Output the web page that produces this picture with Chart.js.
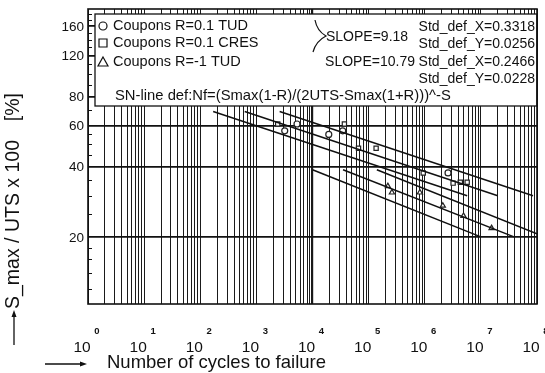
<!DOCTYPE html>
<html>
<head>
<meta charset="utf-8">
<script src="https://cdn.jsdelivr.net/npm/chart.js@4.4.0/dist/chart.umd.min.js"></script>
<style>
  html, body { margin: 0; padding: 0; background: #fff; }
  #snChart { display: block; }
</style>
</head>
<body>
<canvas id="snChart" width="545" height="373"></canvas>
<script>
// coupons R=0.1 TUD (circles)
var tudN = [3.2e3, 5.3e3, 1.95e4, 3.45e4, 2.6e6];
var tudS = [57, 61, 55, 57, 37.6];
// coupons R=0.1 CRES (squares)
var cresN = [2.4e3, 3.7e4, 6.6e4, 1.36e5, 9.4e5, 3.2e6, 4.3e6, 5.7e6];
var cresS = [61, 61, 48, 48, 37.6, 34, 34.3, 34.3];
// coupons R=-1 TUD (triangles)
var revN = [2.2e5, 2.6e5, 8.2e5, 2.1e6, 4.9e6, 1.55e7];
var revS = [33, 31, 31, 27.2, 24.6, 21.8];

// SN lines (start, end)
var lineR01N = [[1.7e2, 5.7e6], [6.2e2, 2.0e7], [2.6e3, 8.5e7]];
var lineR01S = [[69, 30], [69, 30], [69, 30]];
var lineRm1N = [[1.0e4, 1.0e7], [3.5e4, 3.9e7], [1.4e5, 1.0e8]];
var lineRm1S = [[38.8, 20], [38.8, 20], [38.8, 20.6]];

var yTicks = [20, 40, 60, 80, 120, 160];
var yMinorTicks = [12, 14, 16, 18, 25, 30, 35, 45, 50, 55, 70, 90, 100, 110, 130, 140, 150, 170, 180];
var xDecades = [0, 1, 2, 3, 4, 5, 6, 7, 8];
var legendLabels = ['Coupons R=0.1 TUD', 'Coupons R=0.1 CRES', 'Coupons R=-1 TUD'];
var slopeText = ['SLOPE=9.18', 'SLOPE=10.79'];
var stdText = ['Std_def_X=0.3318', 'Std_def_Y=0.0256', 'Std_def_X=0.2466', 'Std_def_Y=0.0228'];
var defText = 'SN-line def:Nf=(Smax(1-R)/(2UTS-Smax(1+R)))^-S';

var FONT = '"Liberation Sans", Arial, sans-serif';

function pts(xs, ys) {
  var out = [];
  for (var i = 0; i < xs.length; i++) out.push({ x: xs[i], y: ys[i] });
  return out;
}

var datasets = [];
for (var i = 0; i < 3; i++) {
  datasets.push({ data: pts(lineR01N[i], lineR01S[i]), showLine: true, borderColor: '#111', borderWidth: 1.5, pointRadius: 0 });
  datasets.push({ data: pts(lineRm1N[i], lineRm1S[i]), showLine: true, borderColor: '#111', borderWidth: 1.5, pointRadius: 0 });
}
datasets.push({ data: pts(tudN, tudS), pointStyle: 'circle', pointRadius: 3, borderColor: '#222', backgroundColor: '#fff', borderWidth: 1.2 });
datasets.push({ data: pts(cresN, cresS), pointStyle: 'rect', pointRadius: 3, borderColor: '#222', backgroundColor: '#fff', borderWidth: 1.2 });
datasets.push({ data: pts(revN, revS), pointStyle: 'triangle', pointRadius: 3, borderColor: '#222', backgroundColor: '#fff', borderWidth: 1.2 });

function drawMarker(ctx, style, x, y) {
  ctx.beginPath();
  if (style == 'circle') ctx.arc(x, y, 4, 0, Math.PI * 2);
  else if (style == 'rect') ctx.rect(x - 4, y - 4, 8, 8);
  else { ctx.moveTo(x, y - 5); ctx.lineTo(x + 5, y + 4); ctx.lineTo(x - 5, y + 4); ctx.closePath(); }
  ctx.stroke();
}

var decorPlugin = {
  id: 'decor',
  afterDraw: function (chart) {
    var ctx = chart.ctx, a = chart.chartArea;
    var xs = chart.scales.x, ys = chart.scales.y;
    ctx.save();
    ctx.strokeStyle = '#111';
    ctx.fillStyle = '#111';

    // minor ticks on left border
    ctx.lineWidth = 1;
    ctx.beginPath();
    yMinorTicks.forEach(function (v) {
      var py = Math.round(ys.getPixelForValue(v)) + 0.5;
      ctx.moveTo(a.left, py); ctx.lineTo(a.left + 4, py);
    });
    ctx.stroke();

    // legend box
    var bx = a.left + 7, by = 14, bw = a.right - bx, bh = 92;
    ctx.fillStyle = '#fff';
    ctx.fillRect(bx, by, bw, bh);
    ctx.lineWidth = 1.3;
    ctx.strokeRect(bx, by, bw, bh);
    ctx.fillStyle = '#111';
    ctx.font = '14.5px ' + FONT;
    ctx.textBaseline = 'middle';
    var rows = [26, 43, 62];
    var styles = ['circle', 'rect', 'triangle'];
    for (var i = 0; i < 3; i++) {
      ctx.lineWidth = 1.2;
      drawMarker(ctx, styles[i], bx + 8, rows[i]);
      ctx.textAlign = 'left';
      ctx.fillText(legendLabels[i], bx + 18, rows[i]);
    }
    ctx.font = '14.8px ' + FONT;
    ctx.fillText(defText, bx + 20, 96);
    ctx.font = '14px ' + FONT;
    ctx.fillText(slopeText[0], 326, 37);
    ctx.textAlign = 'right';
    ctx.fillText(slopeText[1], 415, 62);
    var sy = [27, 44, 62, 79];
    for (var j = 0; j < 4; j++) ctx.fillText(stdText[j], a.right - 2, sy[j]);
    // brace
    ctx.lineWidth = 1.2;
    ctx.beginPath();
    ctx.moveTo(315, 20);
    ctx.quadraticCurveTo(317, 31, 326, 36);
    ctx.quadraticCurveTo(316, 41, 313, 52);
    ctx.stroke();

    // frame
    ctx.lineWidth = 1.6;
    ctx.strokeRect(a.left, a.top, a.right - a.left, a.bottom - a.top);

    // y tick labels
    ctx.font = '13.5px ' + FONT;
    ctx.textAlign = 'right';
    yTicks.forEach(function (v) {
      ctx.fillText(String(v), a.left - 4, ys.getPixelForValue(v) + 1);
    });

    // x tick labels: 10 with exponent
    xDecades.forEach(function (d) {
      var px = xs.getPixelForValue(Math.pow(10, d));
      ctx.font = '15.5px ' + FONT;
      ctx.textAlign = 'center';
      ctx.fillText('10', px - 6, 348);
      ctx.font = 'bold 9.5px ' + FONT;
      ctx.fillText(String(d), px + 9, 331);
    });

    // axis titles
    ctx.font = '18.5px ' + FONT;
    ctx.textAlign = 'left';
    ctx.fillText('Number of cycles to failure', 107, 363);
    ctx.save();
    ctx.translate(14, 309);
    ctx.rotate(-Math.PI / 2);
    ctx.font = '19.5px ' + FONT;
    ctx.fillText('S_max / UTS x 100', 0, 0);
    ctx.textAlign = 'right';
    ctx.fillText('[%]', 216, 0);
    ctx.restore();

    // arrows
    ctx.lineWidth = 1.3;
    ctx.beginPath();
    ctx.moveTo(45, 364); ctx.lineTo(84, 364);
    ctx.moveTo(14, 345); ctx.lineTo(14, 313);
    ctx.stroke();
    ctx.beginPath();
    ctx.moveTo(87, 364); ctx.lineTo(80, 361.5); ctx.lineTo(80, 366.5); ctx.closePath();
    ctx.moveTo(14, 310); ctx.lineTo(11.5, 317); ctx.lineTo(16.5, 317); ctx.closePath();
    ctx.fill();
    ctx.restore();
  }
};

var ctx = document.getElementById('snChart');
var snChart = new Chart(ctx, {
  type: 'scatter',
  data: { datasets: datasets },
  options: {
    responsive: false,
    animation: false,
    layout: { padding: { left: 88, right: 8, top: 9, bottom: 69 } },
    plugins: { legend: { display: false }, tooltip: { enabled: false } },
    scales: {
      x: {
        type: 'logarithmic',
        min: 1,
        max: 1e8,
        afterBuildTicks: function (scale) {
          var t = [];
          for (var k = 0; k < 8; k++) {
            for (var m = 1; m < 10; m++) t.push({ value: m * Math.pow(10, k) });
          }
          t.push({ value: 1e8 });
          scale.ticks = t;
        },
        ticks: { display: false },
        border: { display: false },
        grid: {
          drawTicks: false,
          color: '#1a1a1a',
          lineWidth: function (c) { return c.tick && c.tick.value === 1e4 ? 2.2 : 1; }
        }
      },
      y: {
        type: 'logarithmic',
        min: 10.3,
        max: 190,
        afterBuildTicks: function (scale) {
          scale.ticks = yTicks.map(function (v) { return { value: v }; });
        },
        ticks: { display: false },
        border: { display: false },
        grid: { drawTicks: false, color: '#111', lineWidth: 1.8 }
      }
    }
  },
  plugins: [decorPlugin]
});
</script>
</body>
</html>
